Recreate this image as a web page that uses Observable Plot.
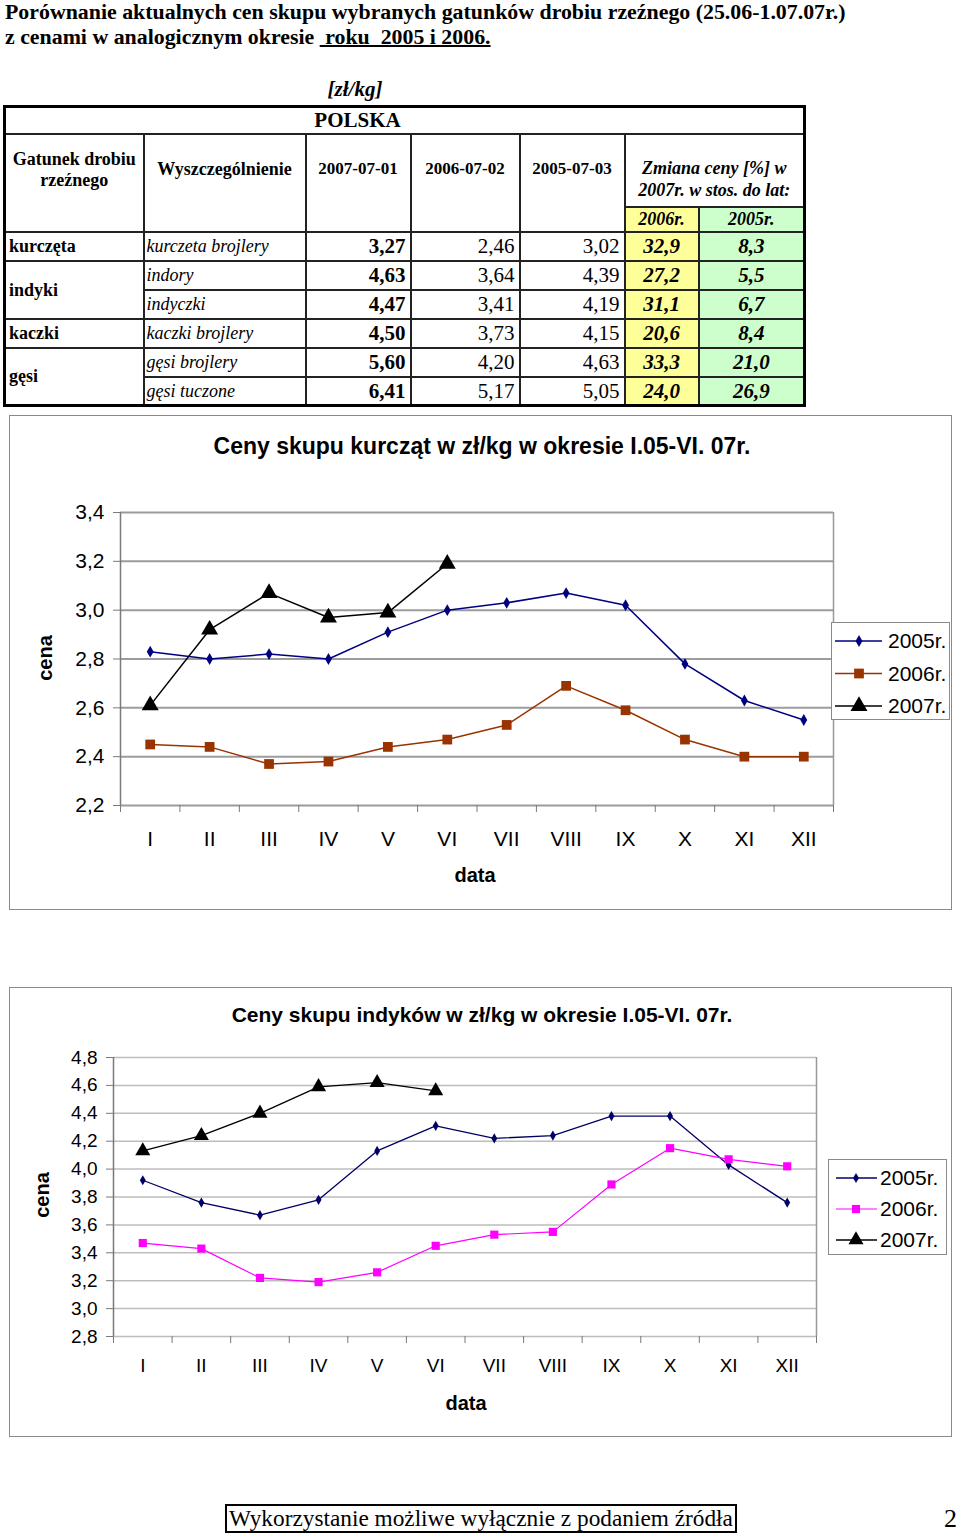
<!DOCTYPE html>
<html><head><meta charset="utf-8">
<script src="https://cdn.jsdelivr.net/npm/d3@7"></script>
<script src="https://cdn.jsdelivr.net/npm/@observablehq/plot@0.6"></script>
<style>
body{margin:0;background:#fff;}
#page{position:relative;width:960px;height:1536px;overflow:hidden;font-family:"Liberation Serif","Times New Roman",serif;color:#000;background:#fff;}
.abs{position:absolute;}
.title{left:5px;font-weight:bold;font-size:20px;line-height:24px;white-space:pre;transform:scaleX(1.093);transform-origin:0 0;}
table.t{position:absolute;left:3px;top:105px;width:800px;border-collapse:collapse;table-layout:fixed;border:3px solid #000;font-size:18px;}
table.t td{border:2px solid #222;padding:0 3px;overflow:hidden;white-space:nowrap;line-height:20px;}
td.polska{text-align:center;font-weight:bold;font-size:21px;vertical-align:middle;padding-right:97px!important;}
td.h1{text-align:center;font-weight:bold;vertical-align:top;padding-top:14px!important;line-height:21px!important;}
td.h2{text-align:center;font-weight:bold;vertical-align:top;padding-top:24px!important;}
td.hd{text-align:center;font-weight:bold;font-size:17px;vertical-align:top;padding-top:24px!important;}
td.hz{text-align:center;font-weight:bold;font-style:italic;vertical-align:top;padding-top:22px!important;line-height:22px!important;white-space:normal!important;}
td.hs{text-align:center;font-weight:bold;font-style:italic;vertical-align:middle;}
td.yl{background:#FFFF99;}
td.gr{background:#CCFFCC;}
td.sp{font-weight:bold;text-align:left;vertical-align:middle;}
td.it{font-style:italic;text-align:left;vertical-align:middle;padding-left:2px!important;}
td.n{font-size:21px;text-align:right;vertical-align:middle;padding-right:4px!important;}
td.nb{font-weight:bold;}
td.c{font-size:21px;text-align:center;font-weight:bold;font-style:italic;vertical-align:middle;}
.frame{position:absolute;border:1.5px solid #8a8a8a;box-sizing:border-box;background:#fff;}
.ctitle{position:absolute;font-family:"Liberation Sans",Arial,sans-serif;font-weight:bold;text-align:center;white-space:nowrap;}
.alab{position:absolute;font-family:"Liberation Sans",Arial,sans-serif;font-weight:bold;font-size:20px;white-space:nowrap;}
.leg{position:absolute;border:1.5px solid #8a8a8a;box-sizing:border-box;background:#fff;}
</style>
</head><body>
<div id="page">
  <div class="abs title" style="top:0px">Porównanie aktualnych cen skupu wybranych gatunków drobiu rzeźnego (25.06-1.07.07r.)</div>
  <div class="abs title" style="top:25px">z cenami w analogicznym okresie <u> roku  2005 i 2006.</u></div>
  <div class="abs" style="left:300px;top:77px;width:110px;text-align:center;font-weight:bold;font-style:italic;font-size:21px;">[zł/kg]</div>
  <table id="tbl" class="t"></table>

  <div class="frame" style="left:9px;top:415px;width:943px;height:495px;"></div>
  <div class="ctitle" style="left:9px;width:946px;top:433px;font-size:23px;">Ceny skupu kurcząt w zł/kg w okresie I.05-VI. 07r.</div>
  <div id="chart1" class="abs" style="left:9px;top:415px;"></div>
  <div class="alab" style="left:475px;top:875px;transform:translate(-50%,-50%);">data</div>
  <div class="alab" style="left:45px;top:658px;transform:translate(-50%,-50%) rotate(-90deg);">cena</div>
  <div id="leg1" class="leg" style="left:831px;top:622px;width:119px;height:98px;"></div>

  <div class="frame" style="left:9px;top:987px;width:943px;height:450px;"></div>
  <div class="ctitle" style="left:9px;width:946px;top:1003px;font-size:21px;">Ceny skupu indyków w zł/kg w okresie I.05-VI. 07r.</div>
  <div id="chart2" class="abs" style="left:9px;top:987px;"></div>
  <div class="alab" style="left:466px;top:1403px;transform:translate(-50%,-50%);">data</div>
  <div class="alab" style="left:42px;top:1195px;transform:translate(-50%,-50%) rotate(-90deg);">cena</div>
  <div id="leg2" class="leg" style="left:828px;top:1159px;width:119px;height:96px;"></div>

  <div class="abs" style="left:225px;top:1504px;width:512px;height:29px;border:2px solid #000;box-sizing:border-box;font-size:23.3px;line-height:25px;text-align:center;white-space:nowrap;">Wykorzystanie możliwe wyłącznie z podaniem źródła</div>
  <div class="abs" style="left:944px;top:1505px;font-size:26px;line-height:28px;">2</div>
</div>
<script>
// ---------- table data ----------
const species = ["kurczęta","indyki","indyki","kaczki","gęsi","gęsi"];
const items = ["kurczeta brojlery","indory","indyczki","kaczki brojlery","gęsi brojlery","gęsi tuczone"];
const dateHeaders = ["2007-07-01","2006-07-02","2005-07-03"];
const price2007 = [3.27, 4.63, 4.47, 4.50, 5.60, 6.41];
const price2006 = [2.46, 3.64, 3.41, 3.73, 4.20, 5.17];
const price2005 = [3.02, 4.39, 4.19, 4.15, 4.63, 5.05];
const change2006 = [32.9, 27.2, 31.1, 20.6, 33.3, 24.0];
const change2005 = [8.3, 5.5, 6.7, 8.4, 21.0, 26.9];

// ---------- chart data ----------
const months = ["I","II","III","IV","V","VI","VII","VIII","IX","X","XI","XII"];
const years = ["2005r.","2006r.","2007r."];
const chicken2005 = [2.83, 2.80, 2.82, 2.80, 2.91, 3.00, 3.03, 3.07, 3.02, 2.78, 2.63, 2.55];
const chicken2006 = [2.45, 2.44, 2.37, 2.38, 2.44, 2.47, 2.53, 2.69, 2.59, 2.47, 2.40, 2.40];
const chicken2007 = [2.61, 2.92, 3.07, 2.97, 2.99, 3.19];
const chickenTicks = [2.2, 2.4, 2.6, 2.8, 3.0, 3.2, 3.4];
const turkey2005 = [3.92, 3.76, 3.67, 3.78, 4.13, 4.31, 4.22, 4.24, 4.38, 4.38, 4.03, 3.76];
const turkey2006 = [3.47, 3.43, 3.22, 3.19, 3.26, 3.45, 3.53, 3.55, 3.89, 4.15, 4.07, 4.02];
const turkey2007 = [4.13, 4.24, 4.40, 4.59, 4.62, 4.56];
const turkeyTicks = [2.8, 3.0, 3.2, 3.4, 3.6, 3.8, 4.0, 4.2, 4.4, 4.6, 4.8];

const fmt = (v, d) => v.toFixed(d).replace(".", ",");

// ---------- table ----------
(function buildTable(){
  let h = "<colgroup>" + [139,162,105,109,105,74,106].map(w => `<col style="width:${w}px">`).join("") + "</colgroup>";
  h += `<tr style="height:27px"><td colspan="7" class="polska">POLSKA</td></tr>`;
  h += `<tr style="height:73px"><td rowspan="2" class="h1">Gatunek drobiu<br>rzeźnego</td><td rowspan="2" class="h2">Wyszczególnienie</td>`
     + dateHeaders.map(d => `<td rowspan="2" class="hd">${d}</td>`).join("")
     + `<td colspan="2" class="hz">Zmiana ceny [%] w<br>2007r. w stos. do lat:</td></tr>`;
  h += `<tr style="height:25px"><td class="hs yl">2006r.</td><td class="hs gr">2005r.</td></tr>`;
  species.forEach((s, i) => {
    h += `<tr style="height:29px">`;
    if (i === 0 || species[i-1] !== s) {
      let n = 1; while (species[i+n] === s) n++;
      h += `<td class="sp" rowspan="${n}">${s}</td>`;
    }
    h += `<td class="it">${items[i]}</td>`;
    h += `<td class="n nb">${fmt(price2007[i],2)}</td>`;
    h += `<td class="n">${fmt(price2006[i],2)}</td>`;
    h += `<td class="n">${fmt(price2005[i],2)}</td>`;
    h += `<td class="c yl">${fmt(change2006[i],1)}</td>`;
    h += `<td class="c gr">${fmt(change2005[i],1)}</td>`;
    h += `</tr>`;
  });
  document.getElementById("tbl").innerHTML = h;
})();

// ---------- charts ----------
function drawChart(o) {
  const edges = d3.range(0.5, months.length + 1, 1);
  const marks = [
    Plot.gridY(o.ticks, {stroke: o.gridStroke, strokeOpacity: 1, strokeWidth: o.gridWidth}),
    Plot.ruleX([0.5], {stroke: "#7a7a7a", strokeWidth: 1.5}),
    Plot.ruleX([months.length + 0.5], {stroke: "#999", strokeWidth: 1.5}),
    Plot.axisY(o.ticks, {tickSize: 7, tickPadding: 9, tickFormat: d => fmt(d, 1), stroke: "#7a7a7a", fill: "#000", fontSize: o.tickFont, label: null}),
    Plot.axisX(edges, {tickSize: 7, tickFormat: () => "", stroke: "#7a7a7a", label: null}),
    Plot.axisX(d3.range(1, months.length + 1), {tickSize: 0, tickPadding: o.xPad, tickFormat: i => months[i-1], fill: "#000", fontSize: o.tickFont, label: null})
  ];
  for (const s of o.series) {
    const rows = s.values.map((v, i) => ({m: i + 1, v, year: s.name}));
    marks.push(Plot.line(rows, {x: "m", y: "v", stroke: s.color, strokeWidth: s.lw}));
    marks.push(Plot.dot(rows, {x: "m", y: "v", symbol: s.symbol, fill: s.color, r: s.r, stroke: "none"}));
  }
  const svg = Plot.plot({
    width: o.width, height: o.height,
    marginLeft: o.mL, marginRight: o.mR, marginTop: o.mT, marginBottom: o.mB,
    x: {type: "linear", domain: [0.5, months.length + 0.5], axis: null, label: null},
    y: {domain: o.domain, axis: null, label: null},
    style: {fontFamily: "'Liberation Sans', Arial, sans-serif", background: "transparent", color: "#000", overflow: "visible"},
    marks
  });
  document.getElementById(o.id).appendChild(svg);
}

function drawLegend(id, series, o) {
  const el = d3.select("#" + id);
  const svg = el.append("svg").attr("width", 119).attr("height", 98)
    .style("position", "absolute").style("left", "-1.5px").style("top", "-1.5px")
    .style("font-family", "'Liberation Sans', Arial, sans-serif");
  series.forEach((s, i) => {
    const y = o.y0 + i * o.dy;
    svg.append("line").attr("x1", o.x1).attr("x2", o.x2).attr("y1", y).attr("y2", y)
      .attr("stroke", s.color).attr("stroke-width", s.lw);
    const sym = {diamond: d3.symbolDiamond, square: d3.symbolSquare, triangle: d3.symbolTriangle}[s.symbol];
    svg.append("path").attr("d", d3.symbol(sym, s.r * s.r * Math.PI)())
      .attr("transform", `translate(${o.xm},${y})`).attr("fill", s.color);
    svg.append("text").attr("x", o.xt).attr("y", y).attr("dy", "0.35em")
      .attr("font-size", 21).attr("fill", "#000").text(s.name);
  });
}

const chickenSeries = [
  {name: years[0], values: chicken2005, color: "#000080", symbol: "diamond", r: 3.6, lw: 1.5},
  {name: years[1], values: chicken2006, color: "#993300", symbol: "square", r: 5.5, lw: 1.5},
  {name: years[2], values: chicken2007, color: "#000000", symbol: "triangle", r: 6.3, lw: 1.5}
];
const turkeySeries = [
  {name: years[0], values: turkey2005, color: "#000066", symbol: "diamond", r: 3.1, lw: 1.3},
  {name: years[1], values: turkey2006, color: "#FF00FF", symbol: "square", r: 4.6, lw: 1.2},
  {name: years[2], values: turkey2007, color: "#000000", symbol: "triangle", r: 5.6, lw: 1.3}
];

drawChart({id: "chart1", width: 942, height: 494, mL: 111, mR: 118, mT: 97, mB: 104,
  domain: [2.2, 3.4], ticks: chickenTicks, gridStroke: "#9c9c9c", gridWidth: 2, tickFont: 21, xPad: 26,
  series: chickenSeries});
drawChart({id: "chart2", width: 942, height: 449, mL: 104, mR: 135, mT: 70, mB: 100,
  domain: [2.8, 4.8], ticks: turkeyTicks, gridStroke: "#bdbdbd", gridWidth: 1.5, tickFont: 19, xPad: 22,
  series: turkeySeries});

drawLegend("leg1", chickenSeries, {y0: 19, dy: 32.5, x1: 4, x2: 51, xm: 28, xt: 57});
drawLegend("leg2", turkeySeries, {y0: 19, dy: 31, x1: 8, x2: 49, xm: 28, xt: 52});
</script>
</body></html>
